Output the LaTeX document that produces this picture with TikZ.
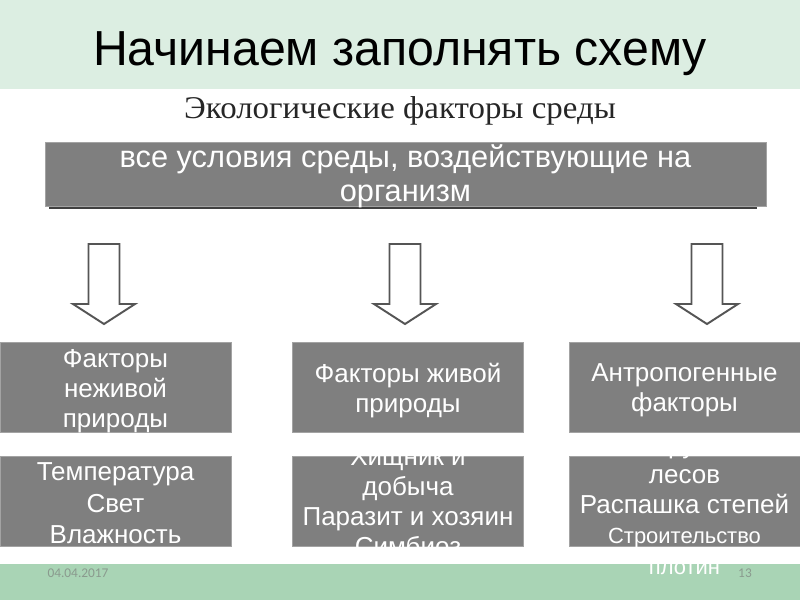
\documentclass[tikz,border=0pt]{standalone}
\usepackage{fontspec}
\setmainfont{Liberation Sans}
\newfontfamily\subserif{Liberation Serif}
\newfontfamily\footfont{Carlito}
\usepackage{tikz}
\usetikzlibrary{positioning, calc}
\definecolor{boxgray}{HTML}{7F7F7F}
\definecolor{boxedge}{HTML}{A3A3A3}
\definecolor{shadowgray}{HTML}{404040}
\definecolor{mintband}{HTML}{DCEEE2}
\definecolor{greenband}{HTML}{A9D4B5}
\definecolor{arrowline}{HTML}{555555}
\definecolor{footgray}{HTML}{8A9A8E}

\begin{document}
\begin{tikzpicture}[
  x=0.02cm, y=-0.02cm,
  font=\fontsize{14.8}{17.1}\selectfont,
  cell/.style={rectangle, draw=boxedge, fill=boxgray, line width=0.5pt,
               minimum width=4.62cm, minimum height=1.8cm, inner sep=0pt},
  celltext/.style={text=white, align=center, inner sep=0pt},
  foot/.style={font=\footfont\fontsize{7.6}{9}\selectfont, text=footgray, inner sep=0pt},
  pics/downarrow/.style={code={
    \draw[arrowline, line width=1.1pt, fill=white, line join=miter]
      (-15.5,0) -- (15.5,0) -- (15.5,60) -- (31,60) -- (0,80) -- (-31,60) -- (-15.5,60) -- cycle;
  }}
]
  \useasboundingbox (0,0) rectangle (800,600);
  % background bands
  \fill[white] (0,0) rectangle (800,600);
  \fill[mintband] (0,0) rectangle (800,89);
  \fill[greenband] (0,564) rectangle (800,600);

  \node[anchor=base, font=\fontsize{28}{32}\selectfont, xscale=0.98] (title) at (400,65) {Начинаем заполнять схему};
  \node[anchor=base, font=\subserif\fontsize{18}{20}\selectfont, text=black!85, xscale=1.04] (sub) at (400,118)
    {Экологические факторы среды};

  % top box with its shadow
  \fill[shadowgray] (49,200) rectangle (757,208.5);
  \node[cell, minimum width=14.42cm, minimum height=1.28cm] (def) at (405.5,174) {};
  \node[celltext, font=\fontsize{17.5}{19.6}\selectfont] (deftext) at ($(def.center)+(0,2)$)
    {все условия среды, воздействующие на\\организм};

  % arrows
  \coordinate (a1) at (104,244);
  \coordinate (a2) at (405,244);
  \coordinate (a3) at (707,244);
  \pic at (a1) {downarrow};
  \pic at (a2) {downarrow};
  \pic at (a3) {downarrow};

  % factor groups
  \node[cell] (abio) at (115.5,387.5) {};
  \node[cell] (bio)  at (408,387.5) {};
  \node[cell] (anth) at (684.5,387.5) {};
  \node[celltext] (abiotext) at ($(abio.center)+(0,4)$) {Факторы\\неживой\\природы};
  \node[celltext] (biotext)  at ($(bio.center)+(0,3)$)  {Факторы живой\\природы};
  \node[celltext] (anthtext) at ($(anth.center)+(0,3)$) {Антропогенные\\факторы};

  % examples
  \node[cell] (abioex) at (115.5,501.5) {};
  \node[cell] (bioex)  at (408,501.5) {};
  \node[cell] (anthex) at (684.5,501.5) {};
  \node[celltext, font=\fontsize{14.8}{18}\selectfont] (abioextext) at ($(abioex.center)+(0,2)$)
    {Температура\\Свет\\Влажность};
  \node[celltext] (bioextext)  at (bioex.center)  {Хищник и\\добыча\\Паразит и хозяин\\Симбиоз};
  \node[celltext] (anthextext) at ($(anthex.center)+(0,3)$)
    {Вырубка\\лесов\\Распашка степей\\{\fontsize{12.5}{17.1}\selectfont Строительство}\\{\fontsize{12.5}{17.1}\selectfont плотин}};

  % footer
  \node[foot] (date) at (78,573) {04.04.2017};
  \node[foot] (page) at (745,573) {13};
\end{tikzpicture}
\end{document}
